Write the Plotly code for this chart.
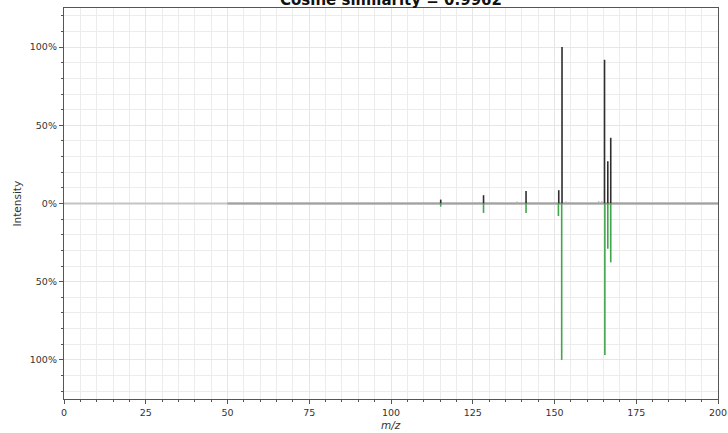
import plotly.graph_objects as go

# Top spectrum (query) and bottom spectrum (library), relative intensity
top_mz = [115.2, 128.3, 141.3, 151.3, 152.3, 165.3, 166.3, 167.2]
top_int = [0.025, 0.053, 0.080, 0.085, 1.000, 0.919, 0.270, 0.420]

bottom_mz = [115.2, 128.3, 141.3, 151.2, 152.2, 165.4, 166.3, 167.2]
bottom_int = [0.020, 0.060, 0.060, 0.080, 1.000, 0.968, 0.290, 0.376]

# Minor unannotated peaks in the query spectrum
noise_mz = [108.0, 110.0, 112.0, 125.5, 127.0, 131.0, 132.0, 138.5, 143.0, 145.0,
            150.0, 153.5, 154.5, 163.5, 164.5, 169.0, 170.5, 178.0]
noise_int = [0.006, 0.008, 0.005, 0.008, 0.010, 0.010, 0.007, 0.012, 0.008, 0.007,
             0.010, 0.012, 0.008, 0.015, 0.014, 0.008, 0.006, 0.004]

axis_mz = [0, 200]
baseline_mz = [50, 200]
x_ticks = [0, 25, 50, 75, 100, 125, 150, 175, 200]
y_ticks = [-1.0, -0.5, 0.0, 0.5, 1.0]
y_tick_labels = ["100%", "50%", "0%", "50%", "100%"]
title_text = "Cosine similarity = 0.9962"


def stems(mz, heights, sign=1):
    xs, ys = [], []
    for m, h in zip(mz, heights):
        xs += [m, m, None]
        ys += [0, sign * h, None]
    return xs, ys


fig = go.Figure()

# zero line across the full axis
fig.add_trace(go.Scatter(x=axis_mz, y=[0, 0], mode="lines",
                         line=dict(color="#c4c4c4", width=2), hoverinfo="skip"))

# measured range baseline
fig.add_trace(go.Scatter(x=baseline_mz, y=[0, 0], mode="lines",
                         line=dict(color="#a0a0a0", width=2), hoverinfo="skip"))

nx, ny = stems(noise_mz, noise_int)
fig.add_trace(go.Scatter(x=nx, y=ny, mode="lines",
                         line=dict(color="#b0b0b0", width=1.2), hoverinfo="skip"))

tx, ty = stems(top_mz, top_int)
fig.add_trace(go.Scatter(x=tx, y=ty, mode="lines",
                         line=dict(color="#2e2e2e", width=1.6)))

bx, by = stems(bottom_mz, bottom_int, sign=-1)
fig.add_trace(go.Scatter(x=bx, y=by, mode="lines",
                         line=dict(color="#42a44b", width=1.6)))

axis_font = dict(family="DejaVu Sans", size=9.5, color="#333333")
label_font = dict(family="DejaVu Sans", size=10.5, color="#333333")

fig.update_layout(
    width=728, height=433,
    margin=dict(l=64, r=10, t=8, b=34),
    paper_bgcolor="white", plot_bgcolor="white",
    showlegend=False,
    font=dict(family="DejaVu Sans", color="#333333"),
    annotations=[
        dict(text="<b>" + title_text + "</b>", xref="paper", yref="paper",
             x=0.5, y=1, xanchor="center", yanchor="bottom", yshift=-3,
             showarrow=False, font=dict(family="DejaVu Sans", size=15, color="#111111")),
        dict(text="<i>m/z</i>", xref="paper", yref="paper", x=0.5, y=0,
             xanchor="center", yanchor="top", yshift=-18, showarrow=False, font=label_font),
        dict(text="Intensity", xref="paper", yref="paper", x=0, y=0.5,
             xanchor="right", yanchor="middle", xshift=-40, textangle=-90,
             showarrow=False, font=label_font),
    ],
)

fig.update_xaxes(
    range=[0, 200], tickvals=x_ticks, ticks="outside", ticklen=4, tickwidth=1,
    tickcolor="#555555", tickfont=axis_font, automargin=False,
    showline=True, linecolor="#555555", linewidth=1.3, mirror=True,
    showgrid=True, gridcolor="#e6e6e6", gridwidth=1,
    minor=dict(dtick=5, tick0=0, ticks="outside", ticklen=2, tickcolor="#555555",
               showgrid=True, gridcolor="#ececec", gridwidth=1),
    zeroline=False,
)

fig.update_yaxes(
    range=[-1.25, 1.25], tickvals=y_ticks, ticktext=y_tick_labels, ticks="outside",
    ticklen=4, tickwidth=1, tickcolor="#555555", tickfont=axis_font, automargin=False,
    showline=True, linecolor="#555555", linewidth=1.3, mirror=True,
    showgrid=True, gridcolor="#e6e6e6", gridwidth=1,
    minor=dict(dtick=0.1, tick0=0, ticks="outside", ticklen=2, tickcolor="#555555",
               showgrid=True, gridcolor="#ececec", gridwidth=1),
    zeroline=False,
)

fig.write_html("out.html")
